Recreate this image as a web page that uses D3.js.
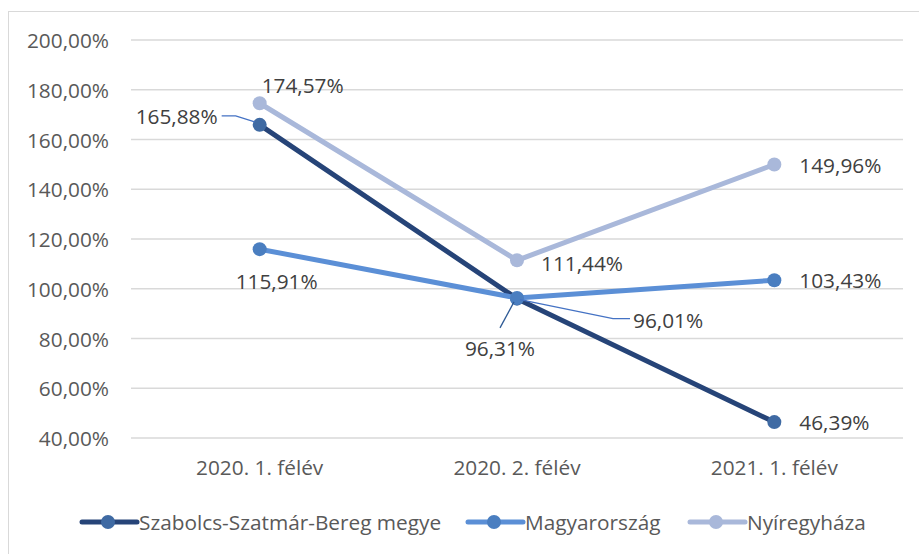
<!DOCTYPE html>
<html lang="hu">
<head>
<meta charset="UTF-8">
<title>Chart</title>
<script src="https://d3js.org/d3.v7.min.js"></script>
<style>
  body { margin: 0; background: #fff; }
  text { font-family: "Open Sans", sans-serif; }
</style>
</head>
<body>
<script>
const categories = ["2020. 1. félév", "2020. 2. félév", "2021. 1. félév"];
const seriesNames = ["Szabolcs-Szatmár-Bereg megye", "Magyarország", "Nyíregyháza"];
const szabolcs = [165.88, 96.01, 46.39];
const magyarorszag = [115.91, 96.31, 103.43];
const nyiregyhaza = [174.57, 111.44, 149.96];
const yTicks = [40, 60, 80, 100, 120, 140, 160, 180, 200];

const w = 919, h = 554;
const fs = 20.8;
const lineColors = ["#264478", "#5B8FD6", "#A9B8DA"];
const markerColors = ["#3F6AA3", "#4A7EC0", "#A9B8DA"];

// label placement per series / point: [anchor, dx, dy, leader points relative to marker]
const labelLayout = [
  [["end", -42, -9, [[-38, -9], [-24, -9], [-5, -3]]],
   ["start", 116, 21, [[3, 1], [96, 20], [113, 20]]],
   ["start", 25, 0, null]],
  [["middle", 17, 32, null],
   ["middle", -17, 50, [[-17, 30], [-3, 4]]],
   ["start", 25, 0, null]],
  [["start", 2, -18, null],
   ["start", 24, 3, null],
   ["start", 25, 1, null]]
];
const leaderColors = ["#4472C4", "#2E5A95", "#4472C4"];

const fmt = v => v.toFixed(2).replace(".", ",") + "%";

const svg = d3.select("body").append("svg")
  .attr("width", w).attr("height", h);

svg.append("rect")
  .attr("x", 8.5).attr("y", 11.5)
  .attr("width", 930).attr("height", 570)
  .attr("fill", "#fff").attr("stroke", "#d9d9d9");

const x = d3.scaleBand().domain(categories).range([131, 903]);
const y = d3.scaleLinear().domain([40, 200]).range([438, 40]);
const cx = c => x(c) + x.bandwidth() / 2;

// gridlines
svg.append("g").selectAll("line")
  .data(yTicks).join("line")
  .attr("x1", 131).attr("x2", 903)
  .attr("y1", d => y(d)).attr("y2", d => y(d))
  .attr("stroke", "#d9d9d9").attr("stroke-width", 1.3);

svg.append("g").selectAll("text")
  .data(yTicks).join("text")
  .attr("x", 109).attr("y", d => y(d))
  .attr("text-anchor", "end").attr("dominant-baseline", "central")
  .attr("fill", "#595959").attr("font-size", fs)
  .text(d => d.toFixed(2).replace(".", ",") + "%");

svg.append("g").selectAll("text")
  .data(categories).join("text")
  .attr("x", d => cx(d)).attr("y", 467)
  .attr("text-anchor", "middle").attr("dominant-baseline", "central")
  .attr("fill", "#595959").attr("font-size", fs)
  .text(d => d);

const allSeries = [szabolcs, magyarorszag, nyiregyhaza];
const line = d3.line().x((d, i) => cx(categories[i])).y(d => y(d));

allSeries.forEach((vals, s) => {
  const g = svg.append("g");
  g.append("path").datum(vals)
    .attr("d", line).attr("fill", "none")
    .attr("stroke", lineColors[s]).attr("stroke-width", 5)
    .attr("stroke-linejoin", "round");
  g.selectAll("circle").data(vals).join("circle")
    .attr("cx", (d, i) => cx(categories[i]))
    .attr("cy", d => y(d))
    .attr("r", 7).attr("fill", markerColors[s]);
});

// data labels drawn after all series
allSeries.forEach((vals, s) => {
  vals.forEach((v, i) => {
    const [anchor, dx, dy, leader] = labelLayout[s][i];
    const mx = cx(categories[i]), my = y(v);
    if (leader) {
      svg.append("polyline")
        .attr("points", leader.map(p => [mx + p[0], my + p[1]].join(",")).join(" "))
        .attr("fill", "none").attr("stroke", leaderColors[s === 1 ? 1 : 0])
        .attr("stroke-width", 1.3);
    }
    svg.append("text")
      .attr("x", mx + dx).attr("y", my + dy)
      .attr("text-anchor", anchor).attr("dominant-baseline", "central")
      .attr("fill", "#404040").attr("font-size", fs)
      .text(fmt(v));
  });
});

// legend
const legendX = [82, 468, 690];
const legend = svg.append("g").selectAll("g")
  .data(seriesNames).join("g")
  .attr("transform", (d, i) => `translate(${legendX[i]},522)`);
legend.append("line")
  .attr("x1", 0).attr("x2", 55)
  .attr("stroke", (d, i) => lineColors[i]).attr("stroke-width", 5)
  .attr("stroke-linecap", "round");
legend.append("circle")
  .attr("cx", 26).attr("r", 7)
  .attr("fill", (d, i) => markerColors[i]);
legend.append("text")
  .attr("x", 57).attr("dominant-baseline", "central")
  .attr("fill", "#595959").attr("font-size", fs)
  .text(d => d);
</script>
</body>
</html>
